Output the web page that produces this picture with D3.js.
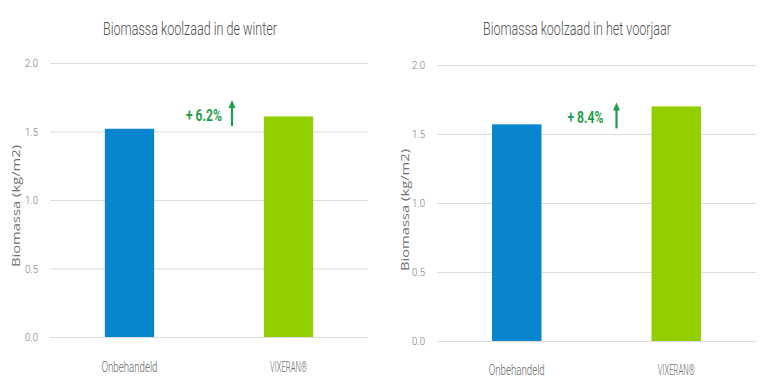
<!DOCTYPE html>
<html>
<head>
<meta charset="utf-8">
<script src="https://cdn.jsdelivr.net/npm/d3@7"></script>
<style>
  html, body { margin: 0; padding: 0; background: #ffffff; }
  svg { display: block; }
</style>
</head>
<body>
<svg id="chart" width="768" height="382"></svg>
<script>
// ---- data ----
const categories = ["Onbehandeld", "VIXERAN®"];
const winterValues = [1.52, 1.61];
const springValues = [1.57, 1.70];
const yTickValues = [0.0, 0.5, 1.0, 1.5, 2.0];
const chartTitles = ["Biomassa koolzaad in de winter", "Biomassa koolzaad in het voorjaar"];
const increaseLabels = ["+ 6.2%", "+ 8.4%"];
const yAxisLabel = "Biomassa (kg/m2)";

const barColors = ["#0786cf", "#93cf00"];
const gridColor = "#dcdcdc";
const textColor = "#666666";
const accent = "#1f9d4c";
const narrow = "Roboto, 'Open Sans', sans-serif";

const svg = d3.select("#chart");

const layouts = [
  { x0: 50, x1: 368, yTop: 63, yBot: 337, titleX: 190, titleLen: 174, tickX: 38, yLabelX: 20, yLabelY: 206, xLabY: 366, annDx: -5, arrowDx: 23 },
  { x0: 437, x1: 756, yTop: 65, yBot: 341, titleX: 577, titleLen: 188, tickX: 425, yLabelX: 409, yLabelY: 210, xLabY: 369, annDx: -11, arrowDx: 20 }
];
const seriesList = [winterValues, springValues];
const xLabelLens = [56, 37];

layouts.forEach((L, i) => {
  const values = seriesList[i];
  const g = svg.append("g");

  const x = d3.scaleBand().domain(categories).range([L.x0, L.x1]).paddingInner(0.69).paddingOuter(0.345);
  const y = d3.scaleLinear().domain([0, 2]).range([L.yBot, L.yTop]);

  // gridlines + tick labels via axis
  const yAxis = d3.axisLeft(y).tickValues(yTickValues).tickFormat(d3.format(".1f"))
    .tickSize(-(L.x1 - L.x0)).tickPadding(L.x0 - L.tickX);
  const ag = g.append("g").attr("transform", `translate(${L.x0},0)`).call(yAxis);
  ag.select(".domain").remove();
  ag.selectAll(".tick line").attr("stroke", gridColor).attr("stroke-width", 1.2);
  ag.selectAll(".tick text").attr("fill", "#7a7a7a").attr("font-family", narrow).attr("font-weight", 300)
    .attr("font-size", 11).attr("textLength", 13).attr("lengthAdjust", "spacingAndGlyphs");

  // bars
  g.selectAll("rect.bar").data(values).join("rect")
    .attr("class", "bar")
    .attr("x", (d, j) => x(categories[j]))
    .attr("width", x.bandwidth())
    .attr("y", d => y(d))
    .attr("height", d => y(0) - y(d))
    .attr("fill", (d, j) => barColors[j]);

  // x labels
  const xAxis = d3.axisBottom(x).tickSize(0).tickPadding(L.xLabY - L.yBot - 5);
  const xg = g.append("g").attr("transform", `translate(0,${L.yBot})`).call(xAxis);
  xg.select(".domain").remove();
  xg.selectAll(".tick text").attr("fill", textColor).attr("font-family", narrow).attr("font-weight", 300)
    .attr("font-size", 15)
    .attr("textLength", (d, j) => xLabelLens[j]).attr("lengthAdjust", "spacingAndGlyphs");

  // title
  g.append("text").attr("x", L.titleX).attr("y", 35).attr("text-anchor", "middle")
    .attr("fill", "#505050").attr("font-family", narrow).attr("font-weight", 300).attr("font-size", 18)
    .attr("textLength", L.titleLen).attr("lengthAdjust", "spacingAndGlyphs")
    .text(chartTitles[i]);

  // y axis label
  g.append("text").attr("transform", `translate(${L.yLabelX},${L.yLabelY}) rotate(-90)`)
    .attr("text-anchor", "middle").attr("fill", "#707070")
    .attr("font-family", "'Open Sans', sans-serif").attr("font-size", 11)
    .attr("textLength", 122).attr("lengthAdjust", "spacingAndGlyphs")
    .text(yAxisLabel);

  // annotation
  const mid = (x(categories[0]) + x(categories[1]) + x.bandwidth()) / 2;
  const ay = y(1.62);
  g.append("text").attr("x", mid + L.annDx).attr("y", ay + 6).attr("text-anchor", "middle")
    .attr("fill", accent).attr("font-family", narrow).attr("font-weight", "bold").attr("font-size", 16)
    .attr("textLength", 36).attr("lengthAdjust", "spacingAndGlyphs")
    .text(increaseLabels[i]);
  const ax = mid + L.arrowDx;
  g.append("line").attr("x1", ax).attr("x2", ax).attr("y1", ay - 9).attr("y2", ay + 11)
    .attr("stroke", accent).attr("stroke-width", 2.2);
  g.append("path").attr("d", `M${ax - 3.5},${ay - 7} L${ax},${ay - 15} L${ax + 3.5},${ay - 7} Z`)
    .attr("fill", accent);
});
</script>
</body>
</html>
